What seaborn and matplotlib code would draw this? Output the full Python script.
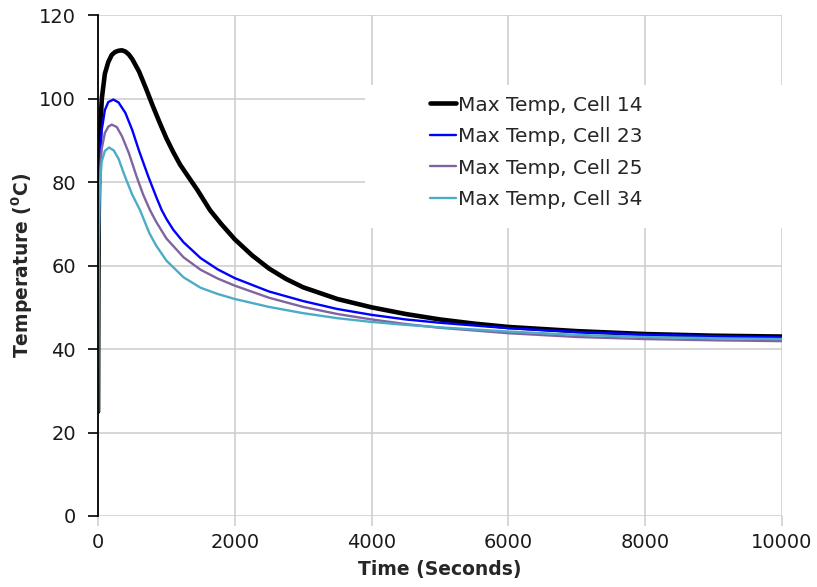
import numpy as np
import pandas as pd
import matplotlib
matplotlib.use("Agg")
import matplotlib.pyplot as plt
from matplotlib.patches import Rectangle
import seaborn as sns

# values
t14 = [0, 5, 10, 20, 30, 55, 100, 150, 200, 250, 300, 350, 400, 450, 500, 600, 700, 800, 900,
       1000, 1100, 1200, 1320, 1450, 1637, 1800, 2000, 2250, 2500, 2750, 3000, 3500, 4000,
       4500, 5000, 5500, 6000, 7000, 8000, 9000, 10000]
cell14 = [25, 55, 72, 86, 92, 100, 106, 108.8, 110.5, 111.2, 111.5, 111.6, 111.3, 110.6, 109.5,
          106.5, 102.5, 98.3, 94.3, 90.5, 87.2, 84.2, 81.3, 78.2, 73.3, 70, 66.3, 62.5, 59.3,
          56.8, 54.8, 52, 50, 48.4, 47.1, 46.1, 45.3, 44.3, 43.6, 43.2, 43]

t23 = [0, 5, 10, 20, 30, 54, 100, 150, 224, 300, 400, 500, 600, 736, 850, 931, 1000, 1100, 1250,
       1500, 1750, 2000, 2500, 3000, 3500, 4000, 4500, 5000, 6000, 7000, 8000, 9000, 10000]
cell23 = [25, 52, 68, 81, 87, 92.5, 97.3, 99.2, 99.8, 99.1, 96.6, 92.5, 87.5, 81.3, 76.5, 73.3,
          71.2, 68.6, 65.6, 61.8, 59.1, 57, 53.8, 51.5, 49.6, 48.2, 47.1, 46.3, 45, 44.1, 43.5,
          43.1, 42.8]

t25 = [0, 5, 10, 20, 30, 54, 100, 150, 200, 275, 350, 450, 565, 660, 760, 850, 1000, 1250, 1500,
       1750, 2000, 2500, 3000, 3500, 4000, 4500, 5000, 6000, 7000, 8000, 9000, 10000]
cell25 = [25, 50, 65, 77, 83, 88, 91.8, 93.3, 93.8, 93.2, 91, 87, 81.3, 77, 73.3, 70.5, 66.5,
          62, 59, 56.9, 55.2, 52.3, 50.1, 48.4, 47.1, 46, 45.1, 43.8, 42.9, 42.4, 42.1, 41.9]

t34 = [0, 5, 10, 20, 30, 54, 100, 161, 230, 300, 395, 500, 614, 750, 850, 1000, 1250, 1500,
       1750, 2000, 2500, 3000, 3500, 4000, 4500, 5000, 6000, 7000, 8000, 9000, 10000]
cell34 = [25, 48, 62, 74, 80, 85, 87.5, 88.3, 87.6, 85.6, 81.3, 77, 73.3, 67.8, 64.8, 61.2,
          57.2, 54.7, 53.2, 52, 50.1, 48.6, 47.4, 46.5, 45.8, 45.2, 44.2, 43.4, 42.9, 42.6, 42.4]

labels = ["Max Temp, Cell 14", "Max Temp, Cell 23", "Max Temp, Cell 25", "Max Temp, Cell 34"]
colors = ["#000000", "#0000FF", "#8064A2", "#4BACC6"]
widths = [3.3, 1.7, 1.7, 1.7]

sns.set_style("white")
plt.rcParams['font.family'] = ['DejaVu Sans']

fig = plt.figure(figsize=(8.17, 5.87), dpi=100)
ax = fig.add_axes([0.12, 0.121, 0.837, 0.853])

series = [(t14, cell14), (t23, cell23), (t25, cell25), (t34, cell34)]
for (t, v), lab, c, w in zip(series, labels, colors, widths):
    sns.lineplot(x=t, y=v, ax=ax, color=c, linewidth=w, label=lab, zorder=3)

ax.set_xlim(0, 10000)
ax.set_ylim(0, 120)
ax.set_xticks(range(0, 10001, 2000))
ax.set_yticks(range(0, 121, 20))
ax.grid(True, color="#cfcfcf", linewidth=1.2)
ax.set_axisbelow(True)

# white legend area hiding the grid, like the original
ax.add_patch(Rectangle((0.39, 0.575), 0.61, 0.285, transform=ax.transAxes,
                       facecolor="white", edgecolor="none", zorder=2))

for s in ["top", "right", "bottom"]:
    ax.spines[s].set_visible(False)
ax.spines["left"].set_color("black")
ax.spines["left"].set_linewidth(1.3)
ax.spines["left"].set_zorder(4)

ax.tick_params(axis="y", direction="out", length=7, width=1.2, color="black", left=True,
               labelsize=14, pad=9, labelcolor="#1a1a1a")
ax.tick_params(axis="x", direction="out", length=7, width=1.2, color="#cfcfcf", bottom=True,
               labelsize=14, pad=5, labelcolor="#1a1a1a")

ax.set_xlabel("Time (Seconds)", fontsize=13.5, fontweight="bold", labelpad=6)
ax.set_ylabel(r"Temperature ($\mathbf{^0}$C)", fontsize=13.5, fontweight="bold", labelpad=3)

leg = ax.legend(loc="upper left", bbox_to_anchor=(0.444, 0.896), frameon=False, fontsize=14.5,
                handlelength=1.3, handletextpad=0.1, labelspacing=0.62, borderpad=0.9)
leg.set_zorder(5)

fig.savefig("out.png", dpi=100)
